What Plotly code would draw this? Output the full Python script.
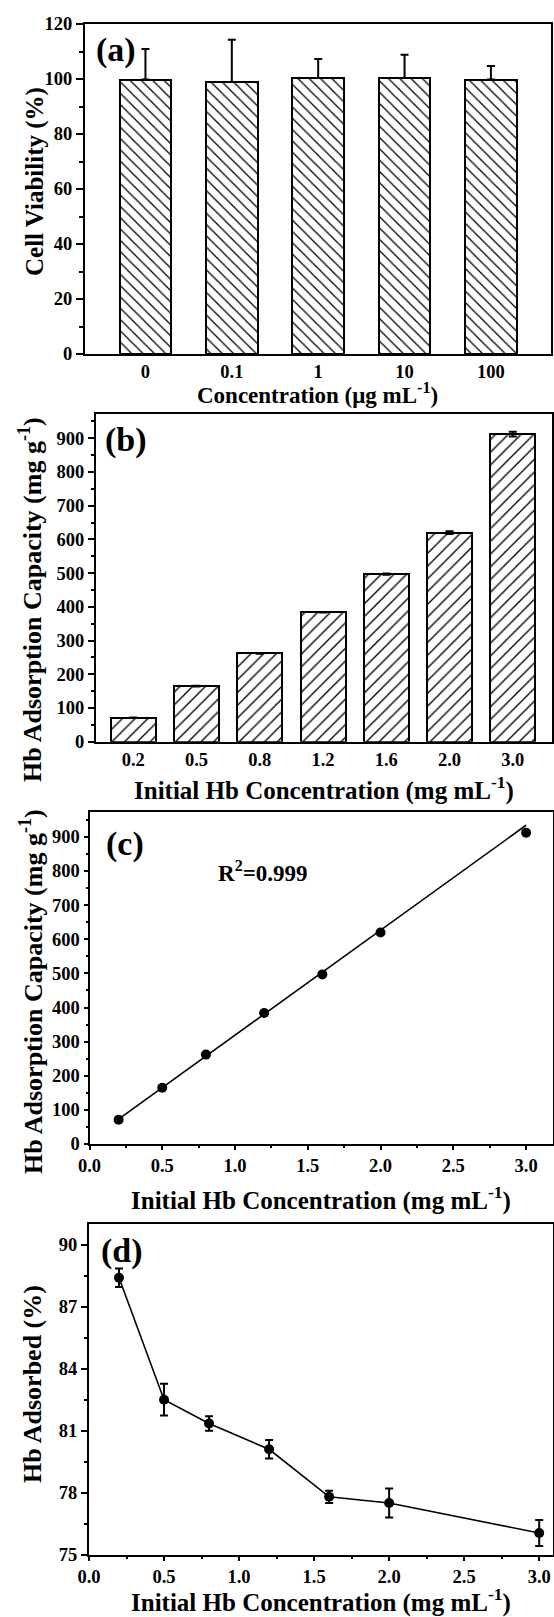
import plotly.graph_objects as go

W, H = 554, 1617
FONT = "Liberation Serif, Times New Roman, serif"

# (a) cell viability at each material concentration
conc_labels = ["0", "0.1", "1", "10", "100"]
viability = [99.8, 98.9, 100.4, 100.4, 99.8]
viability_err = [11.1, 15.4, 6.9, 8.4, 4.9]

# (b), (c) Hb adsorption capacity vs initial Hb concentration
hb_init = [0.2, 0.5, 0.8, 1.2, 1.6, 2.0, 3.0]
hb_init_labels = ["0.2", "0.5", "0.8", "1.2", "1.6", "2.0", "3.0"]
capacity = [71, 165, 262, 384, 497, 620, 912]
capacity_err = [1, 1, 1, 1, 2, 4, 7]

# linear fit drawn in (c)
fit_slope = 307.5
fit_intercept = 11.5
fit_r2_text = "R<sup>2</sup>=0.999"

# (d) percentage of Hb adsorbed
adsorbed = [88.4, 82.5, 81.35, 80.1, 77.8, 77.5, 76.05]
adsorbed_err = [0.45, 0.77, 0.35, 0.45, 0.3, 0.7, 0.63]


def dom_x(left, right):
    return [left / W, right / W]


def dom_y(top, bottom):
    return [1 - bottom / H, 1 - top / H]


def px(x):
    return x / W


def py(y):
    return 1 - y / H


tick_font = dict(family=FONT, size=18.5, color="black", weight="bold")


def minor(ln, dtick):
    return dict(ticks="outside", ticklen=ln, tickwidth=2,
                tickcolor="black", dtick=dtick)


def axis(**kw):
    base = dict(
        showline=True, linecolor="black", linewidth=2, mirror=True,
        showgrid=False, zeroline=False, automargin=False,
        ticks="outside", tickcolor="black", tickwidth=2, ticklen=7,
        tickfont=tick_font,
    )
    base.update(kw)
    return base


fig = go.Figure()

# ---- (a) ----
fig.add_trace(go.Bar(
    x=conc_labels, y=viability, width=0.6,
    marker=dict(color="white", line=dict(color="black", width=2),
                pattern=dict(shape="\\", fgcolor="black", bgcolor="white",
                             size=8, solidity=0.16)),
    error_y=dict(type="data", array=viability_err,
                 arrayminus=[0] * len(viability_err), symmetric=False,
                 color="black", thickness=2, width=4),
    xaxis="x", yaxis="y", showlegend=False,
))

# ---- (b) ----
fig.add_trace(go.Bar(
    x=hb_init_labels, y=capacity, width=0.71,
    marker=dict(color="white", line=dict(color="black", width=2),
                pattern=dict(shape="/", fgcolor="black", bgcolor="white",
                             size=9, solidity=0.15)),
    error_y=dict(type="data", array=capacity_err, color="black",
                 thickness=2, width=4),
    xaxis="x2", yaxis="y2", showlegend=False,
))

# ---- (c) ----
fit_x = [hb_init[0], hb_init[-1]]
fit_y = [fit_slope * v + fit_intercept for v in fit_x]
fig.add_trace(go.Scatter(
    x=fit_x, y=fit_y, mode="lines",
    line=dict(color="black", width=1.6),
    xaxis="x3", yaxis="y3", showlegend=False,
))
fig.add_trace(go.Scatter(
    x=hb_init, y=capacity, mode="markers",
    marker=dict(color="black", size=10),
    xaxis="x3", yaxis="y3", showlegend=False,
))

# ---- (d) ----
fig.add_trace(go.Scatter(
    x=hb_init, y=adsorbed, mode="lines+markers",
    line=dict(color="black", width=1.6),
    marker=dict(color="black", size=10),
    error_y=dict(type="data", array=adsorbed_err, color="black",
                 thickness=2, width=4),
    xaxis="x4", yaxis="y4", showlegend=False,
))

fig.update_layout(
    template="none",
    width=W, height=H,
    margin=dict(l=0, r=0, t=0, b=0, autoexpand=False),
    paper_bgcolor="white", plot_bgcolor="white",
    font=dict(family=FONT, color="black"),
    bargap=0,
    xaxis=axis(domain=dom_x(85, 550.5), anchor="y", type="category",
               range=[-0.7, 4.69], ticks=""),
    yaxis=axis(domain=dom_y(24, 354), anchor="x", range=[0, 120],
               dtick=20, minor=minor(4, 10)),
    xaxis2=axis(domain=dom_x(96, 552), anchor="y2", type="category",
                range=[-0.59, 6.62], ticks=""),
    yaxis2=axis(domain=dom_y(414, 741.7), anchor="x2", range=[0, 972],
                dtick=100, ticklen=6, minor=minor(3, 50)),
    xaxis3=axis(domain=dom_x(89.5, 553), anchor="y3", range=[0, 3.185],
                dtick=0.5, tickformat=".1f", ticklen=4, minor=minor(2, 0.25)),
    yaxis3=axis(domain=dom_y(812.3, 1144), anchor="x3", range=[0, 972],
                dtick=100, ticklen=4, minor=minor(2, 50)),
    xaxis4=axis(domain=dom_x(89, 552.7), anchor="y4", range=[0, 3.09],
                dtick=0.5, tickformat=".1f", ticklen=4, minor=minor(2, 0.25)),
    yaxis4=axis(domain=dom_y(1224, 1554.7), anchor="x4", range=[75, 91],
                tick0=75, dtick=3, ticklen=6, minor=minor(3, 1.5)),
)


def label(text, x, y, size, angle=0):
    fig.add_annotation(
        text=text, x=px(x), y=py(y), xref="paper", yref="paper",
        xanchor="center", yanchor="middle", showarrow=False, textangle=angle,
        font=dict(family=FONT, size=size, color="black", weight="bold"),
    )


# panel letters
label("(a)", 116, 50, 34)
label("(b)", 125.5, 440, 34)
label("(c)", 125, 844, 34)
label("(d)", 122, 1251, 34)

# axis titles
xt_hb = "Initial Hb Concentration (mg mL<sup>-1</sup>)"
yt_cap = "Hb Adsorption Capacity (mg g<sup>-1</sup>)"
label("Concentration (μg mL<sup>-1</sup>)", 317.5, 393, 23)
label("Cell Viability (%)", 35, 182, 25, -90)
label(xt_hb, 323.5, 788, 25)
label(yt_cap, 30, 600, 26, -90)
label(xt_hb, 321, 1198, 25)
label(yt_cap, 31, 992, 26, -90)
label(xt_hb, 321, 1600, 25)
label("Hb Adsorbed (%)", 32, 1384, 26, -90)

# fit quality
label(fit_r2_text, 263, 872, 23)

fig.write_html("out.html")
